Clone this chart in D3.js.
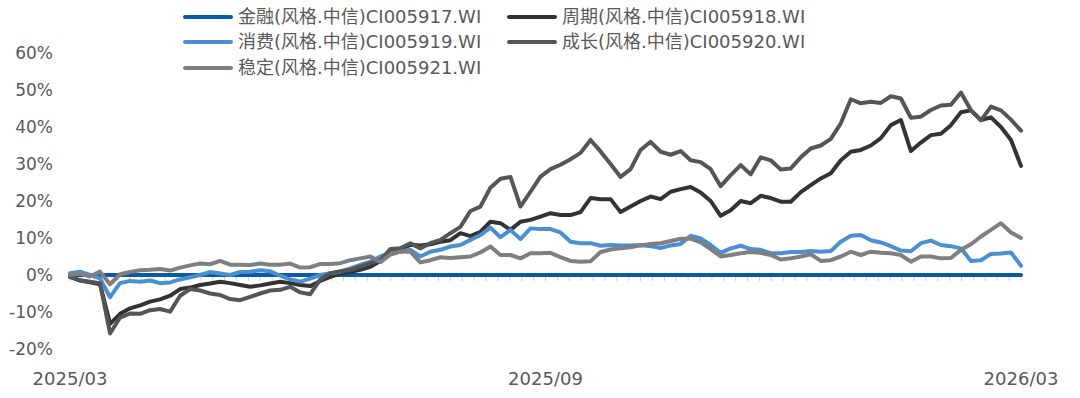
<!DOCTYPE html>
<html>
<head>
<meta charset="utf-8">
<script src="https://cdn.jsdelivr.net/npm/d3@7"></script>
<style>
  html, body { margin: 0; padding: 0; background: #ffffff; }
  svg text { font-family: "DejaVu Sans", "Noto Sans CJK SC", sans-serif; fill: #595959; }
</style>
</head>
<body>
<svg id="chart" width="1080" height="398"></svg>
<script>
// ---- data (cumulative return, %) ----
const xTickLabels = ["2025/03", "2025/09", "2026/03"];
const yTicks = [-20, -10, 0, 10, 20, 30, 40, 50, 60];

const seriesNames = [
  "金融(风格.中信)CI005917.WI",
  "周期(风格.中信)CI005918.WI",
  "消费(风格.中信)CI005919.WI",
  "成长(风格.中信)CI005920.WI",
  "稳定(风格.中信)CI005921.WI"
];

const finance = new Array(96).fill(0);

const cycle = [
  -0.5,-1.5,-2.0,-2.5,-13.2,-10.5,-9.0,-8.2,-7.2,-6.6,
  -5.6,-3.8,-3.4,-2.7,-2.3,-1.8,-2.2,-2.7,-3.2,-2.8,
  -2.3,-1.8,-2.2,-2.7,-3.0,-1.6,-0.5,0.4,0.8,1.4,
  2.2,3.8,6.2,6.8,8.2,8.0,8.3,9.0,9.4,11.3,
  10.5,11.7,14.4,14.0,12.2,14.4,14.9,15.8,16.7,16.2,
  16.2,17.0,20.8,20.5,20.5,17.0,18.5,20.0,21.2,20.5,
  22.5,23.2,23.8,22.3,20.0,16.0,17.5,20.0,19.4,21.4,
  20.8,19.8,19.8,22.4,24.3,26.1,27.5,31.0,33.3,33.8,
  35.0,37.0,40.5,41.9,33.5,35.8,37.8,38.2,40.5,44.0,
  44.5,41.9,42.6,40.0,36.5,29.5
];

const consumption = [
  0.5,0.9,0.0,-0.9,-6.0,-2.2,-1.6,-1.8,-1.5,-2.2,
  -2.0,-1.2,-0.6,0.0,0.8,0.4,0.0,0.8,0.9,1.3,
  1.0,-0.2,-1.2,-1.8,-1.0,0.0,0.5,0.9,1.8,2.7,
  3.6,5.0,5.9,6.3,6.8,5.0,6.3,6.8,7.7,8.1,
  9.5,10.8,12.8,10.2,12.2,9.7,12.6,12.4,12.4,11.5,
  9.0,8.6,8.6,7.9,8.1,8.0,8.0,8.1,7.8,7.3,
  8.0,8.4,10.6,9.9,8.1,6.0,7.2,7.9,7.0,6.8,
  5.9,5.9,6.2,6.2,6.5,6.3,6.5,9.0,10.6,10.8,
  9.4,8.8,7.8,6.6,6.4,8.6,9.3,8.1,7.8,7.2,
  3.8,4.0,5.7,5.8,6.1,2.5
];

const growth = [
  -0.5,-1.4,-1.8,-2.2,-15.8,-11.5,-10.4,-10.5,-9.5,-9.2,
  -9.9,-5.6,-3.8,-4.2,-5.0,-5.4,-6.5,-6.8,-5.9,-5.0,
  -4.2,-4.0,-3.2,-4.7,-5.2,-1.2,0.5,1.0,1.4,2.3,
  3.2,4.0,7.0,7.2,8.6,7.2,8.6,9.5,11.3,13.0,
  17.3,18.5,23.6,26.0,26.5,18.5,22.5,26.6,28.6,29.8,
  31.3,33.0,36.5,33.4,30.0,26.5,28.6,33.8,36.0,33.3,
  32.5,33.5,31.0,30.5,28.6,24.0,27.0,29.7,27.2,31.8,
  31.0,28.5,28.8,31.8,34.2,35.0,36.8,41.0,47.5,46.4,
  46.8,46.5,48.3,47.7,42.5,42.8,44.6,45.8,46.0,49.3,
  44.5,41.8,45.5,44.5,42.0,39.0
];

const stable = [
  0.0,0.4,-0.4,0.9,-2.5,0.2,0.8,1.3,1.4,1.6,
  1.2,2.0,2.6,3.1,2.9,3.8,2.8,2.8,2.7,3.1,
  2.8,2.8,3.1,2.0,2.1,3.0,3.0,3.2,4.0,4.5,
  5.0,3.5,5.5,6.3,6.3,3.4,4.0,4.8,4.6,4.8,
  5.0,6.1,7.7,5.4,5.4,4.5,5.9,5.9,6.0,4.8,
  3.8,3.6,3.7,6.2,6.9,7.2,7.5,8.0,8.4,8.6,
  9.2,9.8,9.8,8.8,7.0,5.0,5.4,5.9,6.2,6.0,
  5.4,4.2,4.5,5.0,5.6,3.8,4.0,5.0,6.3,5.4,
  6.3,6.0,5.9,5.4,3.6,5.0,5.0,4.5,4.6,6.8,
  8.3,10.4,12.2,14.0,11.5,10.0
];

const seriesColors = ["#0b5aa6", "#333333", "#4a90d0", "#555555", "#7f7f7f"];
const seriesValues = [finance, cycle, consumption, growth, stable];

// ---- layout ----
const svg = d3.select("#chart");
const n = cycle.length;
const x = d3.scaleLinear().domain([0, n - 1]).range([70, 1021]);
const y = d3.scaleLinear().domain([-20, 60]).range([349, 53]);

// small category ticks under the zero line
const tickScale = d3.scaleLinear().domain([0, 80]).range([70, 1021]);
svg.append("g")
  .selectAll("line")
  .data(d3.range(0, 81))
  .join("line")
  .attr("x1", d => tickScale(d)).attr("x2", d => tickScale(d))
  .attr("y1", y(0)).attr("y2", y(0) + 6)
  .attr("stroke", "#d0d0d0").attr("stroke-width", 1);

// axis line
svg.append("line")
  .attr("x1", x(0)).attr("x2", x(n - 1))
  .attr("y1", y(0)).attr("y2", y(0))
  .attr("stroke", "#d0d0d0").attr("stroke-width", 1);

// y tick labels
svg.append("g")
  .selectAll("text")
  .data(yTicks)
  .join("text")
  .attr("x", 53)
  .attr("y", d => y(d))
  .attr("dy", "0.36em")
  .attr("text-anchor", "end")
  .attr("font-size", 17)
  .text(d => d + "%");

// x tick labels
const xLabelIdx = [0, (n - 1) / 2, n - 1];
svg.append("g")
  .selectAll("text")
  .data(xTickLabels)
  .join("text")
  .attr("x", (d, i) => x(xLabelIdx[i]))
  .attr("y", 385)
  .attr("text-anchor", "middle")
  .attr("font-size", 18)
  .text(d => d);

// lines
const line = d3.line()
  .x((d, i) => x(i))
  .y(d => y(d))
  .curve(d3.curveLinear);

svg.append("g")
  .selectAll("path")
  .data(seriesValues)
  .join("path")
  .attr("d", d => line(d))
  .attr("fill", "none")
  .attr("stroke", (d, i) => seriesColors[i])
  .attr("stroke-width", 4)
  .attr("stroke-linejoin", "round")
  .attr("stroke-linecap", "round");

// legend
const legendPos = [
  {col: 0, row: 0}, {col: 1, row: 0},
  {col: 0, row: 1}, {col: 1, row: 1},
  {col: 0, row: 2}
];
const colX = [183, 507];
const rowY = [17, 42, 68];
const lg = svg.append("g")
  .selectAll("g")
  .data(seriesNames)
  .join("g")
  .attr("transform", (d, i) => `translate(${colX[legendPos[i].col]},${rowY[legendPos[i].row]})`);
lg.append("line")
  .attr("x1", 2).attr("x2", 48)
  .attr("y1", 0).attr("y2", 0)
  .attr("stroke", (d, i) => seriesColors[i])
  .attr("stroke-width", 4)
  .attr("stroke-linecap", "round");
lg.append("text")
  .attr("x", 55)
  .attr("y", 0)
  .attr("dy", "0.36em")
  .attr("font-size", 18)
  .text(d => d);
</script>
</body>
</html>
